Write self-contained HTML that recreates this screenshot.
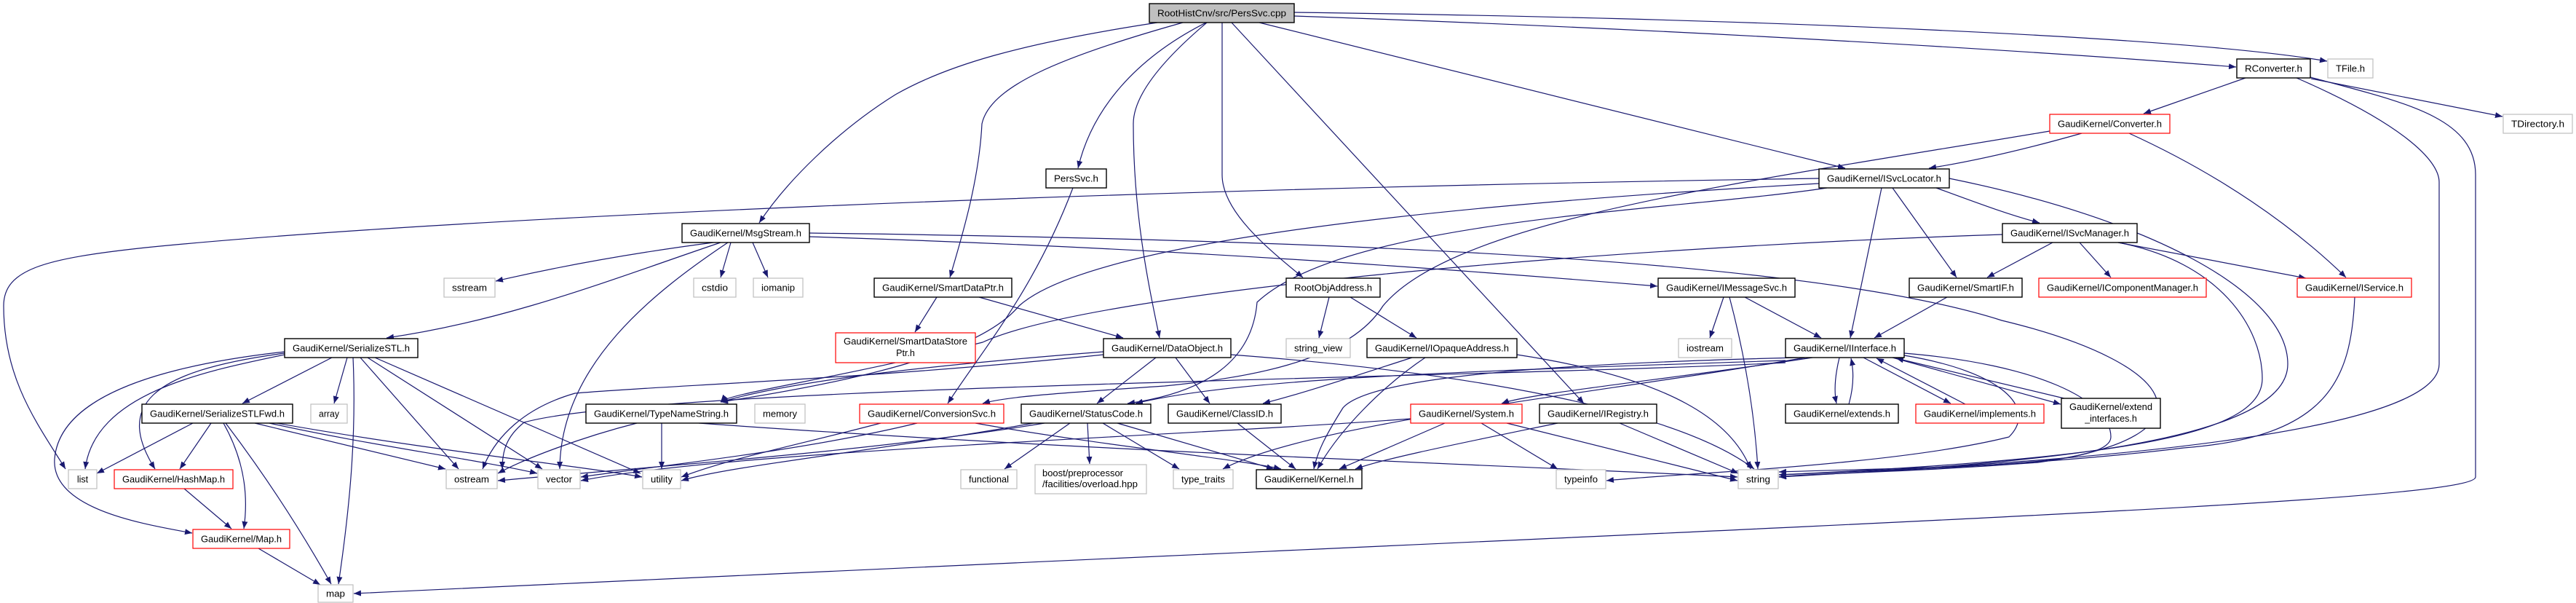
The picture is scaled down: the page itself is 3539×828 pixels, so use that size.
<!DOCTYPE html>
<html><head><meta charset="utf-8">
<style>
html,body{margin:0;padding:0;background:#fff;}
svg{display:block;}
text{font-family:"Liberation Sans",sans-serif;font-size:12.5px;fill:#000;}
.e{fill:none;stroke:#191970;stroke-width:1.2;marker-end:url(#a);}
.nb{fill:#fff;stroke:#000;stroke-width:1.4;}
.nr{fill:#fff;stroke:#ff0000;stroke-width:1.2;}
.ng{fill:#fff;stroke:#bfbfbf;stroke-width:1.2;}
</style></head><body>
<svg width="3539" height="828" viewBox="0 0 3539 828" xmlns="http://www.w3.org/2000/svg">
<defs><marker id="a" markerUnits="userSpaceOnUse" markerWidth="11" markerHeight="8" refX="10" refY="4" orient="auto"><path d="M0,0 L10,4 L0,8 z" fill="#191970"/></marker></defs>
<g>
<path class="e" d="M1590,31 C1400,60 1300,90 1230,130 C1150,180 1080,250 1043,306"/>
<path class="e" d="M1625,31 C1450,80 1360,120 1349,170 C1345,250 1320,330 1305,381"/>
<path class="e" d="M1657,31 C1560,80 1500,150 1481,231"/>
<path class="e" d="M1658,31 C1600,80 1557,130 1557,170 C1557,300 1580,400 1593,464"/>
<path class="e" d="M1679,31 L1679,240 C1679,290 1740,340 1790,381"/>
<path class="e" d="M1692,31 L2176,554"/>
<path class="e" d="M1730,31 L2535,231"/>
<path class="e" d="M1778,22 C2300,40 2800,70 3072,92"/>
<path class="e" d="M1778,17 C2400,25 3000,50 3197,84"/>
<path class="e" d="M1474,258 C1420,400 1350,480 1302,554"/>
<path class="e" d="M980,333 C850,350 750,370 681,386"/>
<path class="e" d="M990,333 C850,380 700,440 531,464"/>
<path class="e" d="M1004,333 L990,381"/>
<path class="e" d="M1034,333 L1055,381"/>
<path class="e" d="M1000,333 C900,400 770,500 769,644"/>
<path class="e" d="M1112,325 C1600,340 2000,370 2277,393"/>
<path class="e" d="M1112,320 C1900,330 2500,360 2750,440 C3000,500 3050,600 2800,635 C2600,650 2480,650 2444,655"/>
<path class="e" d="M456,491 L333,554"/>
<path class="e" d="M477,491 L459,554"/>
<path class="e" d="M485,491 C490,600 480,700 465,802"/>
<path class="e" d="M495,491 L630,644"/>
<path class="e" d="M505,491 L745,644"/>
<path class="e" d="M515,491 L880,650"/>
<path class="e" d="M391,487 C280,510 130,540 117,644"/>
<path class="e" d="M391,485 C200,510 160,560 213,644"/>
<path class="e" d="M391,483 C150,510 80,570 75,630 C70,700 200,720 264,732"/>
<path class="e" d="M265,581 L133,650"/>
<path class="e" d="M290,581 L247,644"/>
<path class="e" d="M307,581 C340,640 340,690 335,726"/>
<path class="e" d="M310,581 C370,660 420,740 455,802"/>
<path class="e" d="M350,581 L612,644"/>
<path class="e" d="M370,581 C500,610 650,630 738,650"/>
<path class="e" d="M380,581 C600,620 800,640 882,655"/>
<path class="e" d="M253,671 L318,726"/>
<path class="e" d="M355,753 L440,803"/>
<path class="e" d="M1287,408 L1257,456"/>
<path class="e" d="M1345,408 L1543,464"/>
<path class="e" d="M1588,491 L1507,554"/>
<path class="e" d="M1615,491 L1662,554"/>
<path class="e" d="M1516,487 C1200,520 900,530 790,540 C720,560 680,600 663,644"/>
<path class="e" d="M1516,483 C1300,500 1100,520 990,552"/>
<path class="e" d="M1691,487 C2000,510 2300,560 2410,644"/>
<path class="e" d="M1958,491 C1900,530 1840,590 1810,644"/>
<path class="e" d="M2084,487 C2300,520 2380,580 2405,644"/>
<path class="e" d="M1940,491 C1850,520 1790,540 1735,554"/>
<path class="e" d="M1826,408 L1812,464"/>
<path class="e" d="M1855,408 L1946,464"/>
<path class="e" d="M2368,408 L2349,464"/>
<path class="e" d="M2376,408 C2395,480 2410,560 2415,644"/>
<path class="e" d="M2397,408 L2502,464"/>
<path class="e" d="M2675,408 L2575,464"/>
<path class="e" d="M2585,258 L2542,464"/>
<path class="e" d="M2600,258 L2688,381"/>
<path class="e" d="M2660,258 C2720,280 2760,295 2802,306"/>
<path class="e" d="M2499,245 C1500,260 600,300 200,340 C60,355 5,370 5,420 C5,520 50,580 90,644"/>
<path class="e" d="M2499,252 C2000,280 1500,330 1400,420 C1350,480 1200,520 990,552"/>
<path class="e" d="M2510,258 C2300,290 1850,300 1727,415 C1720,500 1650,540 1549,554"/>
<path class="e" d="M2678,245 C2950,300 3143,400 3143,500 C3143,620 2700,640 2444,655"/>
<path class="e" d="M2820,333 L2730,381"/>
<path class="e" d="M2857,333 L2900,381"/>
<path class="e" d="M2910,333 L3168,382"/>
<path class="e" d="M2910,333 C3050,360 3108,450 3108,520 C3108,600 2900,630 2444,652"/>
<path class="e" d="M2751,322 C2200,340 1500,400 1350,470 C1150,520 1000,540 990,552"/>
<path class="e" d="M3235,408 C3230,520 3200,600 3000,615 C2800,640 2500,650 2444,655"/>
<path class="e" d="M3085,107 L2945,156"/>
<path class="e" d="M3175,108 L3438,160"/>
<path class="e" d="M3155,107 C3300,170 3351,220 3351,250 L3351,500 C3351,580 3000,630 2444,652"/>
<path class="e" d="M3174,106 C3300,140 3401,160 3401,240 L3401,655 C3401,690 2500,720 486,815"/>
<path class="e" d="M2860,183 C2800,200 2720,220 2650,231"/>
<path class="e" d="M2925,183 C3050,240 3150,310 3223,381"/>
<path class="e" d="M2816,180 C2400,250 2000,300 1900,420 C1850,500 1700,520 1600,530 C1450,540 1380,545 1350,554"/>
<path class="e" d="M909,581 L909,644"/>
<path class="e" d="M875,581 C800,600 720,630 684,650"/>
<path class="e" d="M960,581 C1500,620 2100,640 2387,655"/>
<path class="e" d="M1210,581 C1100,610 1000,630 936,655"/>
<path class="e" d="M1260,581 C1100,620 900,640 798,655"/>
<path class="e" d="M1340,581 C1500,610 1700,630 1760,644"/>
<path class="e" d="M1470,581 L1380,644"/>
<path class="e" d="M1494,581 L1497,637"/>
<path class="e" d="M1515,581 L1620,644"/>
<path class="e" d="M1535,581 L1750,644"/>
<path class="e" d="M1435,581 C1200,620 900,640 684,660"/>
<path class="e" d="M1420,581 C1200,620 1000,640 936,660"/>
<path class="e" d="M1700,581 L1780,644"/>
<path class="e" d="M1985,581 L1840,644"/>
<path class="e" d="M2070,581 L2387,660"/>
<path class="e" d="M2035,581 L2140,644"/>
<path class="e" d="M1938,575 C1600,600 1000,620 798,660"/>
<path class="e" d="M2140,581 C2000,610 1900,630 1862,644"/>
<path class="e" d="M2225,581 L2388,650"/>
<path class="e" d="M2527,491 C2520,520 2520,540 2523,554"/>
<path class="e" d="M2540,555 C2547,530 2547,510 2543,492"/>
<path class="e" d="M2560,491 L2680,554"/>
<path class="e" d="M2700,555 L2578,492"/>
<path class="e" d="M2600,491 L2831,555"/>
<path class="e" d="M2840,548 L2605,492"/>
<path class="e" d="M2490,491 C2300,520 2100,540 2063,554"/>
<path class="e" d="M2616,485 C2800,500 2900,550 2900,600 C2900,640 2700,640 2444,648"/>
<path class="e" d="M2616,488 C2750,510 2800,560 2760,600 C2600,640 2300,650 2207,660"/>
<path class="e" d="M2470,491 C2100,500 1880,520 1845,560 C1820,600 1810,620 1805,644"/>
<path class="e" d="M2453,495 C2000,510 1700,520 1560,554"/>
<path class="e" d="M2480,491 C2200,540 1800,580 1680,644"/>
<path class="e" d="M2453,498 C2000,520 900,530 720,580 C695,600 690,620 690,644"/>
</g>
<g>
<rect x="1579" y="5" width="199" height="26" fill="#bfbfbf" stroke="#000" stroke-width="1.4"/><text x="1678.5" y="22.5" text-anchor="middle" textLength="177" lengthAdjust="spacingAndGlyphs">RootHistCnv/src/PersSvc.cpp</text>
<rect class="nb" x="1437" y="232" width="83" height="26"/><text x="1478.5" y="249.5" text-anchor="middle" textLength="61" lengthAdjust="spacingAndGlyphs">PersSvc.h</text>
<rect class="nb" x="937" y="307" width="175" height="26"/><text x="1024.5" y="324.5" text-anchor="middle" textLength="153" lengthAdjust="spacingAndGlyphs">GaudiKernel/MsgStream.h</text>
<rect class="ng" x="610" y="382" width="70" height="26"/><text x="645" y="399.5" text-anchor="middle" textLength="48" lengthAdjust="spacingAndGlyphs">sstream</text>
<rect class="ng" x="953" y="382" width="58" height="26"/><text x="982" y="399.5" text-anchor="middle" textLength="36" lengthAdjust="spacingAndGlyphs">cstdio</text>
<rect class="ng" x="1035" y="382" width="68" height="26"/><text x="1069" y="399.5" text-anchor="middle" textLength="46" lengthAdjust="spacingAndGlyphs">iomanip</text>
<rect class="nb" x="1201" y="382" width="189" height="26"/><text x="1295.5" y="399.5" text-anchor="middle" textLength="167" lengthAdjust="spacingAndGlyphs">GaudiKernel/SmartDataPtr.h</text>
<rect class="nb" x="1767" y="382" width="129" height="26"/><text x="1831.5" y="399.5" text-anchor="middle" textLength="107" lengthAdjust="spacingAndGlyphs">RootObjAddress.h</text>
<rect class="nb" x="2278" y="382" width="188" height="26"/><text x="2372" y="399.5" text-anchor="middle" textLength="166" lengthAdjust="spacingAndGlyphs">GaudiKernel/IMessageSvc.h</text>
<rect class="nb" x="2623" y="382" width="155" height="26"/><text x="2700.5" y="399.5" text-anchor="middle" textLength="133" lengthAdjust="spacingAndGlyphs">GaudiKernel/SmartIF.h</text>
<rect class="nr" x="2801" y="382" width="230" height="26"/><text x="2916" y="399.5" text-anchor="middle" textLength="208" lengthAdjust="spacingAndGlyphs">GaudiKernel/IComponentManager.h</text>
<rect class="nr" x="3156" y="382" width="157" height="26"/><text x="3234.5" y="399.5" text-anchor="middle" textLength="135" lengthAdjust="spacingAndGlyphs">GaudiKernel/IService.h</text>
<rect class="nb" x="391" y="465" width="183" height="26"/><text x="482.5" y="482.5" text-anchor="middle" textLength="161" lengthAdjust="spacingAndGlyphs">GaudiKernel/SerializeSTL.h</text>
<rect class="nr" x="1148" y="457" width="192" height="41"/><text x="1244" y="473" text-anchor="middle" textLength="170" lengthAdjust="spacingAndGlyphs">GaudiKernel/SmartDataStore</text><text x="1244" y="489" text-anchor="middle">Ptr.h</text>
<rect class="nb" x="1516" y="465" width="175" height="26"/><text x="1603.5" y="482.5" text-anchor="middle" textLength="153" lengthAdjust="spacingAndGlyphs">GaudiKernel/DataObject.h</text>
<rect class="ng" x="1767" y="465" width="88" height="26"/><text x="1811" y="482.5" text-anchor="middle" textLength="66" lengthAdjust="spacingAndGlyphs">string_view</text>
<rect class="nb" x="1878" y="465" width="206" height="26"/><text x="1981" y="482.5" text-anchor="middle" textLength="184" lengthAdjust="spacingAndGlyphs">GaudiKernel/IOpaqueAddress.h</text>
<rect class="ng" x="2306" y="465" width="73" height="26"/><text x="2342.5" y="482.5" text-anchor="middle" textLength="51" lengthAdjust="spacingAndGlyphs">iostream</text>
<rect class="nb" x="2453" y="465" width="163" height="26"/><text x="2534.5" y="482.5" text-anchor="middle" textLength="141" lengthAdjust="spacingAndGlyphs">GaudiKernel/IInterface.h</text>
<rect class="nb" x="195" y="555" width="207" height="26"/><text x="298.5" y="572.5" text-anchor="middle" textLength="185" lengthAdjust="spacingAndGlyphs">GaudiKernel/SerializeSTLFwd.h</text>
<rect class="ng" x="427" y="555" width="50" height="26"/><text x="452" y="572.5" text-anchor="middle" textLength="28" lengthAdjust="spacingAndGlyphs">array</text>
<rect class="nb" x="805" y="555" width="207" height="26"/><text x="908.5" y="572.5" text-anchor="middle" textLength="185" lengthAdjust="spacingAndGlyphs">GaudiKernel/TypeNameString.h</text>
<rect class="ng" x="1037" y="555" width="69" height="26"/><text x="1071.5" y="572.5" text-anchor="middle" textLength="47" lengthAdjust="spacingAndGlyphs">memory</text>
<rect class="nr" x="1181" y="555" width="198" height="26"/><text x="1280" y="572.5" text-anchor="middle" textLength="176" lengthAdjust="spacingAndGlyphs">GaudiKernel/ConversionSvc.h</text>
<rect class="nb" x="1403" y="555" width="178" height="26"/><text x="1492" y="572.5" text-anchor="middle" textLength="156" lengthAdjust="spacingAndGlyphs">GaudiKernel/StatusCode.h</text>
<rect class="nb" x="1605" y="555" width="155" height="26"/><text x="1682.5" y="572.5" text-anchor="middle" textLength="133" lengthAdjust="spacingAndGlyphs">GaudiKernel/ClassID.h</text>
<rect class="nr" x="1938" y="555" width="153" height="26"/><text x="2014.5" y="572.5" text-anchor="middle" textLength="131" lengthAdjust="spacingAndGlyphs">GaudiKernel/System.h</text>
<rect class="nb" x="2115" y="555" width="161" height="26"/><text x="2195.5" y="572.5" text-anchor="middle" textLength="139" lengthAdjust="spacingAndGlyphs">GaudiKernel/IRegistry.h</text>
<rect class="nb" x="2453" y="555" width="155" height="26"/><text x="2530.5" y="572.5" text-anchor="middle" textLength="133" lengthAdjust="spacingAndGlyphs">GaudiKernel/extends.h</text>
<rect class="nr" x="2632" y="555" width="176" height="26"/><text x="2720" y="572.5" text-anchor="middle" textLength="154" lengthAdjust="spacingAndGlyphs">GaudiKernel/implements.h</text>
<rect class="nb" x="2832" y="547" width="136" height="41"/><text x="2900" y="563" text-anchor="middle" textLength="114" lengthAdjust="spacingAndGlyphs">GaudiKernel/extend</text><text x="2900" y="579" text-anchor="middle">_interfaces.h</text>
<rect class="ng" x="94" y="645" width="39" height="26"/><text x="113.5" y="662.5" text-anchor="middle">list</text>
<rect class="nr" x="157" y="645" width="163" height="26"/><text x="238.5" y="662.5" text-anchor="middle" textLength="141" lengthAdjust="spacingAndGlyphs">GaudiKernel/HashMap.h</text>
<rect class="ng" x="613" y="645" width="70" height="26"/><text x="648" y="662.5" text-anchor="middle" textLength="48" lengthAdjust="spacingAndGlyphs">ostream</text>
<rect class="ng" x="739" y="645" width="58" height="26"/><text x="768" y="662.5" text-anchor="middle" textLength="36" lengthAdjust="spacingAndGlyphs">vector</text>
<rect class="ng" x="883" y="645" width="52" height="26"/><text x="909" y="662.5" text-anchor="middle" textLength="30" lengthAdjust="spacingAndGlyphs">utility</text>
<rect class="ng" x="1320" y="645" width="77" height="26"/><text x="1358.5" y="662.5" text-anchor="middle" textLength="55" lengthAdjust="spacingAndGlyphs">functional</text>
<rect class="ng" x="1422" y="638" width="153" height="40"/><text x="1432" y="654" textLength="111" lengthAdjust="spacingAndGlyphs">boost/preprocessor</text><text x="1432" y="669" textLength="131" lengthAdjust="spacingAndGlyphs">/facilities/overload.hpp</text>
<rect class="ng" x="1612" y="645" width="82" height="26"/><text x="1653" y="662.5" text-anchor="middle" textLength="60" lengthAdjust="spacingAndGlyphs">type_traits</text>
<rect class="nb" x="1726" y="645" width="145" height="26"/><text x="1798.5" y="662.5" text-anchor="middle" textLength="123" lengthAdjust="spacingAndGlyphs">GaudiKernel/Kernel.h</text>
<rect class="ng" x="2138" y="645" width="68" height="26"/><text x="2172" y="662.5" text-anchor="middle" textLength="46" lengthAdjust="spacingAndGlyphs">typeinfo</text>
<rect class="ng" x="2388" y="645" width="55" height="26"/><text x="2415.5" y="662.5" text-anchor="middle" textLength="33" lengthAdjust="spacingAndGlyphs">string</text>
<rect class="nr" x="265" y="727" width="133" height="26"/><text x="331.5" y="744.5" text-anchor="middle" textLength="111" lengthAdjust="spacingAndGlyphs">GaudiKernel/Map.h</text>
<rect class="ng" x="437" y="803" width="48" height="24"/><text x="461" y="819.5" text-anchor="middle" textLength="26" lengthAdjust="spacingAndGlyphs">map</text>
<rect class="nb" x="3073" y="81" width="101" height="26"/><text x="3123.5" y="98.5" text-anchor="middle" textLength="79" lengthAdjust="spacingAndGlyphs">RConverter.h</text>
<rect class="ng" x="3198" y="81" width="62" height="26"/><text x="3229" y="98.5" text-anchor="middle" textLength="40" lengthAdjust="spacingAndGlyphs">TFile.h</text>
<rect class="nr" x="2816" y="157" width="165" height="26"/><text x="2898.5" y="174.5" text-anchor="middle" textLength="143" lengthAdjust="spacingAndGlyphs">GaudiKernel/Converter.h</text>
<rect class="ng" x="3439" y="157" width="95" height="26"/><text x="3486.5" y="174.5" text-anchor="middle" textLength="73" lengthAdjust="spacingAndGlyphs">TDirectory.h</text>
<rect class="nb" x="2499" y="232" width="179" height="26"/><text x="2588.5" y="249.5" text-anchor="middle" textLength="157" lengthAdjust="spacingAndGlyphs">GaudiKernel/ISvcLocator.h</text>
<rect class="nb" x="2751" y="307" width="185" height="26"/><text x="2843.5" y="324.5" text-anchor="middle" textLength="163" lengthAdjust="spacingAndGlyphs">GaudiKernel/ISvcManager.h</text>
</g>
</svg>
</body></html>
